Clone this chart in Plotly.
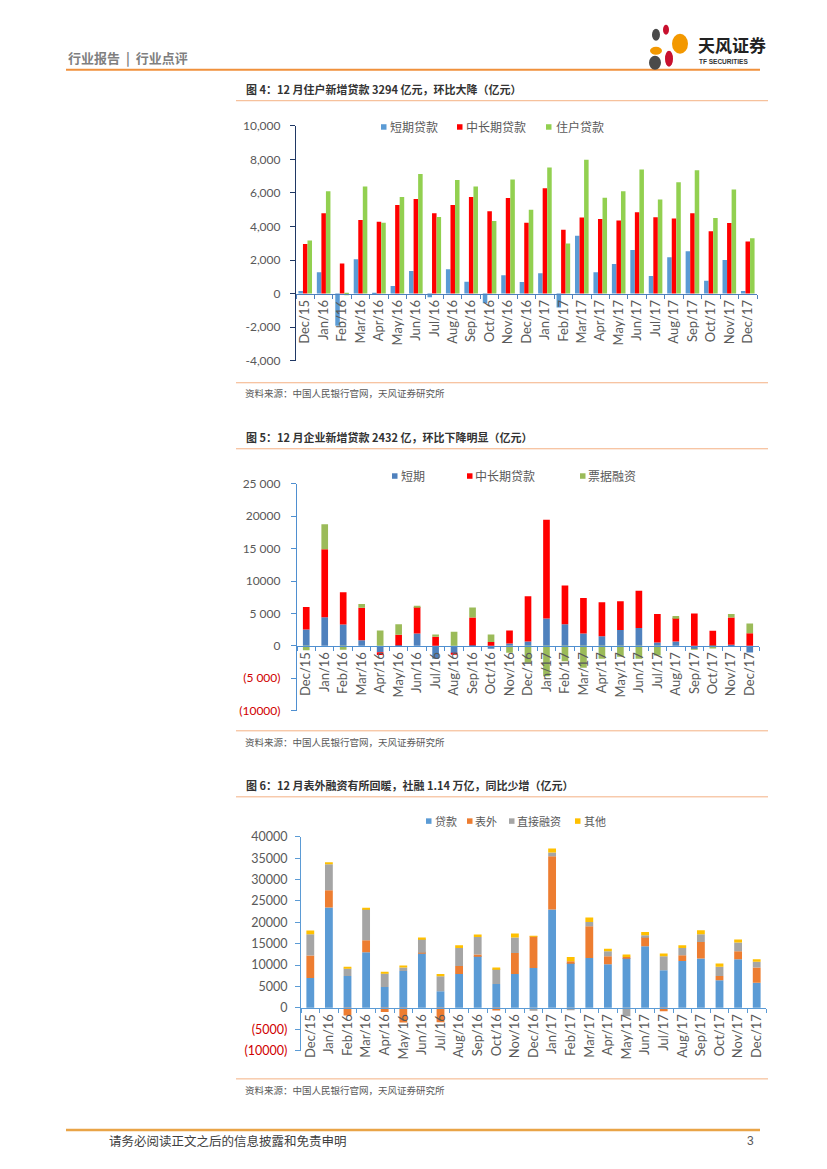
import plotly.graph_objects as go

W, H = 827, 1169
# small vertical correction for the capture (measured: rendered y = 8.3 + 0.987*y)
def px(x): return x / W
def py(y): return 1 - ((y - 8.3) / 0.987) / H

CJK = "Noto Sans CJK SC"
LAT = "Lato"
GRAY = "#595959"
NEG = "#D00000"

months = ["Dec/15", "Jan/16", "Feb/16", "Mar/16", "Apr/16", "May/16", "Jun/16", "Jul/16",
          "Aug/16", "Sep/16", "Oct/16", "Nov/16", "Dec/16", "Jan/17", "Feb/17", "Mar/17",
          "Apr/17", "May/17", "Jun/17", "Jul/17", "Aug/17", "Sep/17", "Oct/17", "Nov/17", "Dec/17"]

# Fig 4: household loans (100m CNY)
hh_names = ["短期贷款", "中长期贷款", "住户贷款"]
hh_short = [160, 1270, -1920, 2040, -80, 460, 1350, -220, 1450, 710, -570, 1090, 690,
            1210, -830, 3450, 1270, 1760, 2590, 1050, 2160, 2530, 770, 2000, 160]
hh_mid = [2950, 4790, 1800, 4390, 4280, 5280, 5640, 4790, 5280, 5750, 4900, 5700, 4220,
          6280, 3800, 4530, 4450, 4350, 4850, 4550, 4470, 4790, 3720, 4200, 3110]
hh_total = [3170, 6090, -100, 6380, 4220, 5750, 7120, 4570, 6760, 6380, 4330, 6800, 4990,
            7510, 2990, 7980, 5710, 6100, 7390, 5610, 6640, 7350, 4510, 6200, 3294]

# Fig 5: corporate loans
corp_names = ["短期", "中长期贷款", "票据融资"]
corp_short = [2500, 4400, 3300, 870, -1000, 100, 1900, -2000, -1200, 100, -460, 360, 670,
              4220, 3340, 1900, 1490, 2420, 2730, 510, 670, -510, 50, 150, -1030]
corp_mid = [3500, 10500, 4980, 5000, -400, 1600, 4100, 1390, -150, 4270, 570, 2000, 6990,
            15220, 5970, 5460, 5250, 4470, 5760, 4380, 3650, 4990, 2260, 4220, 1950]
corp_bill = [-670, 3850, -620, 570, 2370, 1640, 100, 360, 2160, 1550, 1180, -1080, -2600,
             -4700, -2400, -3400, -2000, -1700, -2000, -1500, 260, -50, -400, 520, 1500]

# Fig 6: total social financing
tsf_names = ["贷款", "表外", "直接融资", "其他"]
tsf_loan = [7000, 23460, 7480, 13020, 4910, 8650, 12780, 3900, 7950, 12160, 5610, 7950, 9350,
            22990, 10520, 11690, 10210, 11690, 14420, 8810, 10990, 11540, 6470, 11380, 5850]
tsf_off = [5240, 4050, -1790, 2800, -940, -3430, 100, -3350, 1870, 300, -620, 4910, 7410,
           12470, 390, 7400, 1870, 230, 2180, -780, 1330, 3890, 1010, 1870, 3580]
tsf_direct = [4990, 6080, 1720, 7330, 3120, 780, 3200, 3500, 4210, 4140, 3510, 3590, -700,
              900, -550, 1010, 1170, -1950, 390, 3270, 1710, 1800, 2110, 2030, 1330]
tsf_other = [850, 470, 390, 150, 310, 470, 390, 550, 620, 550, 310, 930, 50,
             900, 1000, 1010, 550, 550, 780, 620, 620, 930, 780, 700, 620]

y1_vals = [-4000, -2000, 0, 2000, 4000, 6000, 8000, 10000]
y1_text = ["-4,000", "-2,000", "0", "2,000", "4,000", "6,000", "8,000", "10,000"]
y2_vals = [-10000, -5000, 0, 5000, 10000, 15000, 20000, 25000]
y2_text = ["(10000)", "(5 000)", "0", "5 000", "10000", "15 000", "20000", "25 000"]
y3_vals = [-10000, -5000, 0, 5000, 10000, 15000, 20000, 25000, 30000, 35000, 40000]
y3_text = ["(10000)", "(5000)", "0", "5000", "10000", "15000", "20000", "25000", "30000", "35000", "40000"]

def colored(vals, texts):
    return [f"<span style='color:{NEG}'>{t}</span>" if v < 0 else t for v, t in zip(vals, texts)]

fig = go.Figure()

# ---- chart 1 (grouped via overlaying axes) ----
c1_cols = ["#5B9BD5", "#FF0000", "#92D050"]
c1_axes = ["x", "x4", "x5"]
c1_off = [-0.37, -0.123, 0.123]
for name, vals, col, xa, off in zip(hh_names, [hh_short, hh_mid, hh_total], c1_cols, c1_axes, c1_off):
    fig.add_trace(go.Bar(x=months, y=vals, name=name, marker=dict(color=col, line_width=0),
                         xaxis=xa, yaxis="y", width=0.245, offset=off, showlegend=False))

# ---- chart 2 ----
c2_cols = ["#4F81BD", "#FF0000", "#9BBB59"]
for name, vals, col in zip(corp_names, [corp_short, corp_mid, corp_bill], c2_cols):
    fig.add_trace(go.Bar(x=months, y=vals, name=name, marker=dict(color=col, line_width=0),
                         xaxis="x2", yaxis="y2", width=0.36, showlegend=False))

# ---- chart 3 ----
c3_cols = ["#5B9BD5", "#ED7D31", "#A5A5A5", "#FFC000"]
for name, vals, col in zip(tsf_names, [tsf_loan, tsf_off, tsf_direct, tsf_other], c3_cols):
    fig.add_trace(go.Bar(x=months, y=vals, name=name, marker=dict(color=col, line_width=0),
                         xaxis="x3", yaxis="y3", width=0.42, showlegend=False))

def xax(dom, pos, color):
    return dict(domain=dom, anchor="free", position=pos, type="category",
                categoryorder="array", categoryarray=months, range=[-0.5, 24.5],
                showline=True, linecolor=color, linewidth=1.2, ticks="outside",
                tickson="boundaries", ticklen=4, tickcolor=color, tickangle=-90,
                tickfont=dict(family=LAT, size=13, color=GRAY), showgrid=False,
                zeroline=False, fixedrange=True)

def yax(dom, rng, anchor, vals, texts, color, size=12, standoff=6):
    return dict(domain=dom, range=rng, anchor=anchor, tickmode="array", tickvals=vals,
                ticktext=texts, showline=True, linecolor=color, linewidth=1.2,
                ticks="outside", ticklen=5, tickcolor=color,
                tickfont=dict(family=LAT, size=size, color=GRAY), ticklabelstandoff=standoff,
                showgrid=False, zeroline=False, fixedrange=True)

hidden = dict(overlaying="x", visible=False, type="category", categoryorder="array",
              categoryarray=months, range=[-0.5, 24.5], anchor="y")

fig.update_layout(
    width=W, height=H, margin=dict(l=0, r=0, t=0, b=0), autosize=False,
    paper_bgcolor="white", plot_bgcolor="white", barmode="relative", showlegend=False,
    xaxis=xax([px(296), px(757)], py(294), "#4F81BD"),
    xaxis4=hidden, xaxis5=hidden,
    yaxis=yax([py(361), py(126)], [-4000, 10000], "x", y1_vals, y1_text, "#203864", 12, 7),
    xaxis2=xax([px(297), px(759)], py(646), "#4F8FD0"),
    yaxis2=yax([py(710.8), py(484)], [-10000, 25000], "x2", y2_vals, colored(y2_vals, y2_text), "#4F8FD0", 12, 8),
    xaxis3=xax([px(301), px(766)], py(1008), "#5B9BD5"),
    yaxis3=yax([py(1050.75), py(837)], [-10000, 40000], "x3", y3_vals, colored(y3_vals, y3_text), "#5B9BD5", 12.5, 5),
)

shapes = []
def hline(y, x0, x1, color, w):
    shapes.append(dict(type="line", xref="paper", yref="paper", x0=px(x0), x1=px(x1),
                       y0=py(y), y1=py(y), line=dict(color=color, width=w)))
hline(70, 66, 760, "#F0913C", 2)
hline(1130, 66, 760, "#E9A447", 2.5)
for y in (101, 383, 449, 731, 797, 1079):
    hline(y, 236, 768, "#F4B183", 1)

def petal(cx, cy, rx, ry, color):
    shapes.append(dict(type="circle", xref="paper", yref="paper", x0=px(cx - rx), x1=px(cx + rx),
                       y0=py(cy + ry), y1=py(cy - ry), fillcolor=color, line_width=0))
petal(656, 35, 4, 6, "#4A4A4A")
petal(666, 30, 3, 5, "#C8102E")
petal(680, 44, 8, 10, "#F39800")
petal(656, 51, 6, 4, "#F39800")
petal(669, 59, 4, 8, "#C8102E")
petal(655, 63, 6, 7, "#4A4A4A")

def txt(x, y, s, size, color="#404040", family=CJK, xanchor="left"):
    fig.add_annotation(x=px(x), y=py(y), xref="paper", yref="paper", text=s, showarrow=False,
                       xanchor=xanchor, yanchor="middle", font=dict(family=family, size=size, color=color))

# legends: small colour square + series name
def legend_items(names, cols, sq_x, txt_x, yc, size):
    for n, c, sx, tx in zip(names, cols, sq_x, txt_x):
        shapes.append(dict(type="rect", xref="paper", yref="paper", x0=px(sx), x1=px(sx + 5.5),
                           y0=py(yc + 3), y1=py(yc - 2.5), fillcolor=c, line_width=0))
        txt(tx, yc, n, size, GRAY)

legend_items(hh_names, c1_cols, [381, 457, 546], [388, 464, 554], 127, 12)
legend_items(corp_names, c2_cols, [392, 467, 580], [399, 473, 586], 476, 12)
legend_items(tsf_names, c3_cols, [426, 467, 509, 575], [433, 473, 515, 582], 821, 11)
fig.update_layout(shapes=shapes)

txt(66, 58, "<b>行业报告\u00a0\u00a0|\u00a0\u00a0行业点评</b>", 13, "#7F7F7F")
txt(696, 45, "<b>天风证券</b>", 17, "#222222")
txt(697, 62, "<b>TF SECURITIES</b>", 6.5, "#333333", "Liberation Sans")
txt(244, 89, "<b>图 4：12 月住户新增贷款 3294 亿元，环比大降（亿元）</b>", 11, "#333333")
txt(244, 437, "<b>图 5：12 月企业新增贷款 2432 亿，环比下降明显（亿元）</b>", 11, "#333333")
txt(244, 785, "<b>图 6：12 月表外融资有所回暖，社融 1.14 万亿，同比少增（亿元）</b>", 11, "#333333")
src = "资料来源：中国人民银行官网，天风证券研究所"
for y in (393, 742, 1090):
    txt(243, y, src, 9.5, "#595959")
txt(107, 1141, "请务必阅读正文之后的信息披露和免责申明", 12.5, "#404040")
txt(756, 1141, "3", 12, "#595959", "Liberation Sans", "right")

post = ("document.documentElement.style.margin='0';document.documentElement.style.padding='0';"
        "document.documentElement.style.overflow='hidden';"
        "document.body.style.margin='0';document.body.style.padding='0';"
        "document.body.style.overflow='hidden';document.body.style.height='1169px';"
        "var d=document.getElementById('{plot_id}');"
        "d.style.position='absolute';d.style.top='0px';d.style.left='0px';")
fig.write_html("out.html", config={"displayModeBar": False}, post_script=post)
